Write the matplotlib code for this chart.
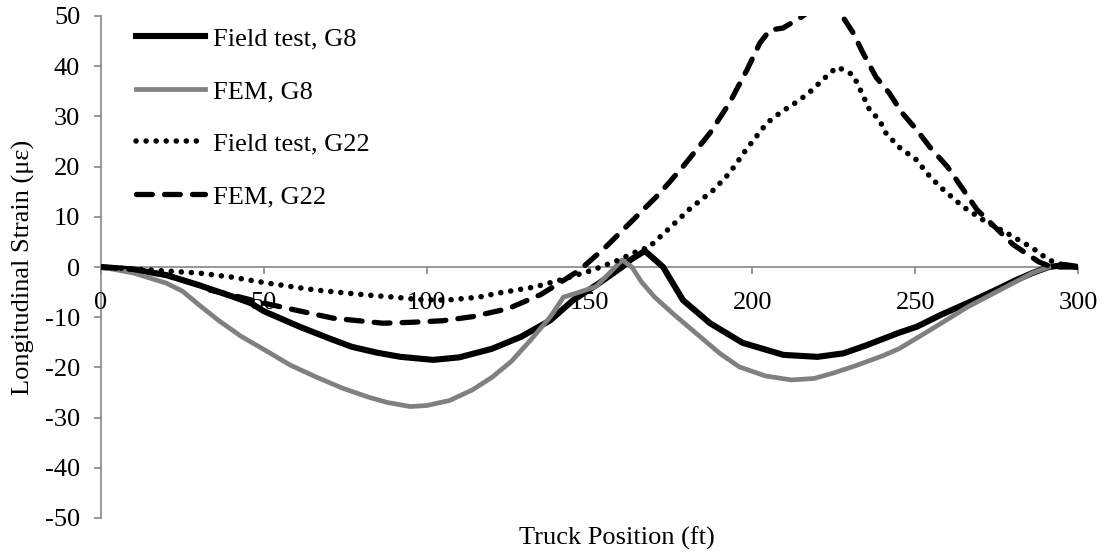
import numpy as np
import matplotlib
matplotlib.use('Agg')
import matplotlib.pyplot as plt
from matplotlib import rcParams

rcParams['font.family'] = ['Liberation Serif', 'DejaVu Serif']
rcParams['font.size'] = 19
rcParams['axes.unicode_minus'] = False

# Field test, G8
field_g8_x = [0, 10, 20, 30, 40, 46, 50, 61, 70, 77, 85, 92, 102, 110, 120, 129, 138, 145,
              153, 160, 163, 167, 170, 172.6, 178.7, 187, 197, 209.5, 220, 228, 235, 245,
              250.5, 258, 266, 274, 281, 286, 291, 296, 300]
field_g8_y = [0, -0.5, -1.6, -3.6, -5.8, -7.2, -8.8, -11.9, -14.2, -15.9, -17.1, -17.9, -18.5,
              -18.0, -16.3, -13.9, -10.6, -6.6, -3.2, 0, 1.6, 3.2, 1.5, 0, -6.6, -11.2, -15.1,
              -17.5, -17.9, -17.2, -15.6, -13.1, -11.9, -9.5, -7.2, -4.8, -2.6, -1.2, 0, 0.4, 0]

# FEM, G8
fem_g8_x = [0, 10, 20, 25, 30, 36, 43, 51, 58, 66, 74, 82, 88, 95, 100, 107, 114, 120, 126,
            132, 138, 142, 146, 152, 156, 160, 163, 166, 170, 176, 184, 190, 196, 204, 212,
            219, 225, 232, 240, 245, 255, 266, 276, 286, 291]
fem_g8_y = [0, -1.2, -3.2, -4.8, -7.5, -10.6, -13.8, -16.8, -19.5, -21.9, -24.1, -25.9, -27.0,
            -27.8, -27.6, -26.6, -24.5, -22.0, -18.8, -14.5, -9.9, -6.0, -5.2, -3.9, -1.3, 1.4,
            0, -3.0, -6.0, -9.5, -13.9, -17.2, -19.9, -21.7, -22.5, -22.2, -21.1, -19.6, -17.7,
            -16.3, -12.4, -8.0, -4.6, -1.2, 0]

# Field test, G22
field_g22_x = [0, 15, 30, 40, 51, 66, 82, 90, 98, 106, 116, 122, 133, 141, 151, 159, 165.5,
               168, 174, 181, 188, 193, 198, 204.5, 208.5, 214.6, 217.7, 223.8, 226, 228.4,
               231, 233.6, 236, 239, 241, 245, 250.5, 253.6, 257.6, 264.7, 270.8, 278, 286,
               291, 296, 300]
field_g22_y = [0, -0.6, -1.2, -2.0, -3.2, -4.6, -5.6, -6.0, -6.5, -6.6, -6.0, -5.2, -4.0, -2.6,
               -0.6, 1.4, 3.4, 3.8, 7.4, 11.7, 15.3, 18.7, 23.3, 28.7, 30.7, 33.3, 34.9, 38.6,
               39.8, 39.2, 38.2, 34.7, 31.3, 29.3, 26.7, 23.9, 21.3, 18.7, 16.0, 12.0, 9.4, 6.8,
               3.8, 1.4, 0.3, 0]

# FEM, G22
fem_g22_x = [0, 10, 20, 30, 33.5, 42.7, 50, 57, 71.3, 86.6, 96, 105, 114, 125, 135, 140, 147,
             155, 163.4, 171.6, 178.7, 187, 193, 198.3, 202.3, 205.4, 209.4, 214.6, 222,
             227.8, 231, 234, 238, 242, 246, 250.5, 254.5, 260, 269, 280, 288, 292, 300]
fem_g22_y = [0, -0.5, -1.6, -3.6, -4.6, -6.0, -7.2, -8.2, -10.2, -11.2, -11.0, -10.7, -9.9, -8.3,
             -5.5, -3.5, -0.6, 4.0, 9.4, 14.7, 20.0, 26.7, 32.7, 39.2, 44.6, 47.2, 47.6, 49.6,
             53.0, 49.8, 46.6, 42.6, 37.8, 34.7, 30.7, 27.3, 23.9, 19.9, 11.4, 4.5, 1.0, 0, 0]

x_ticks = [0, 50, 100, 150, 200, 250, 300]
y_ticks = [-50, -40, -30, -20, -10, 0, 10, 20, 30, 40, 50]

axis_color = '#868686'

fig = plt.figure(figsize=(11.07, 5.56), dpi=100)
ax = fig.add_axes([101 / 1107, 1 - 518 / 556, 977 / 1107, 502 / 556])

ax.plot(field_g8_x, field_g8_y, color='black', linewidth=4.4, label='Field test, G8',
        solid_joinstyle='round')
ax.plot(fem_g8_x, fem_g8_y, color='#808080', linewidth=3.4, label='FEM, G8',
        solid_joinstyle='round')
ax.plot(field_g22_x, field_g22_y, color='black', linewidth=4.0, linestyle=(0, (0.01, 1.8)),
        dash_capstyle='round', label='Field test, G22')
ax.plot(fem_g22_x, fem_g22_y, color='black', linewidth=3.8, linestyle=(0, (3.0, 2.3)),
        dash_capstyle='round', label='FEM, G22')

ax.set_xlim(0, 300)
ax.set_ylim(-50, 50)
ax.set_xticks(x_ticks)
ax.set_yticks(y_ticks)

# x axis crosses at y = 0, like the Excel chart
ax.spines['bottom'].set_position(('data', 0))
ax.spines['top'].set_visible(False)
ax.spines['right'].set_visible(False)
for s in ['bottom', 'left']:
    ax.spines[s].set_color(axis_color)
    ax.spines[s].set_linewidth(1.2)
    ax.spines[s].set_zorder(0.5)
ax.set_axisbelow(True)

ax.tick_params(axis='both', direction='out', length=5, width=1.2, color=axis_color,
               labelsize=19)
ax.tick_params(axis='x', pad=13)
ax.tick_params(axis='y', pad=10)

ax.set_ylabel('Longitudinal Strain (με)', fontsize=19)
ax.yaxis.set_label_coords((35 - 101) / 977, 0.5)
fig.text(617 / 1107, 1 - 538 / 556, 'Truck Position (ft)', ha='center', va='center', fontsize=19)

leg = ax.legend(loc='upper left', bbox_to_anchor=(136 / 1107, 1 - 27 / 556),
                bbox_transform=fig.transFigure, frameon=False, fontsize=19,
                handlelength=2.6, handletextpad=0.3, labelspacing=1.1,
                borderpad=0, borderaxespad=0)

fig.savefig('out.png', dpi=100)
